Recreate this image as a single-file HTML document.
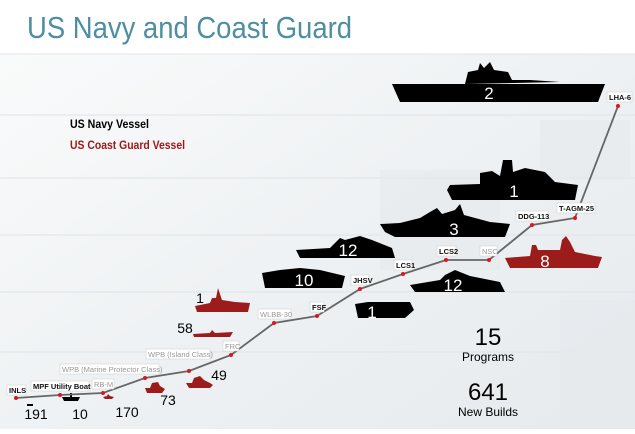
<!DOCTYPE html>
<html><head><style>
body{margin:0;width:635px;height:429px;overflow:hidden;font-family:"Liberation Sans",sans-serif;}
</style></head><body>
<svg width="635" height="429" viewBox="0 0 635 429" xmlns="http://www.w3.org/2000/svg" font-family="Liberation Sans, sans-serif">
<defs>
<linearGradient id="bg" x1="0" y1="0" x2="1" y2="1">
<stop offset="0" stop-color="#fbfcfc"/><stop offset="0.5" stop-color="#eff2f4"/><stop offset="1" stop-color="#e6eaec"/>
</linearGradient>
</defs>
<rect width="635" height="429" fill="url(#bg)"/>
<rect width="635" height="54" fill="#fff"/>
<line x1="0" y1="54" x2="635" y2="54" stroke="#e4e6e8"/>
<g stroke="#dfe3e6" stroke-width="1">
<line x1="0" y1="115" x2="635" y2="115"/><line x1="0" y1="178" x2="635" y2="178"/>
<line x1="0" y1="235" x2="635" y2="235"/><line x1="0" y1="292" x2="635" y2="292"/><line x1="0" y1="352" x2="635" y2="352"/>
</g>
<g fill="#e6eaed" opacity="0.6">
<rect x="380" y="170" width="120" height="100"/><rect x="540" y="120" width="90" height="60"/>
<rect x="560" y="300" width="75" height="129"/>
</g>
<text x="27" y="38" font-size="31" fill="#4e8ea3" textLength="325" lengthAdjust="spacingAndGlyphs">US Navy and Coast Guard</text>
<text x="70" y="128" font-size="12" font-weight="bold" fill="#000" textLength="79" lengthAdjust="spacingAndGlyphs">US Navy Vessel</text>
<text x="70" y="149" font-size="12" font-weight="bold" fill="#a01818" textLength="115" lengthAdjust="spacingAndGlyphs">US Coast Guard Vessel</text>

<g fill="#000">
<polygon points="392,84 605,84 598,102 400,102"/>
<polygon points="465,84 468,72 478,70 480,63 484,68 490,62 494,70 508,72 512,80 530,80 560,82 465,84"/>
<polygon points="447,190 450,185 480,184 480,173 492,171 500,176 503,160 512,160 513,172 525,168 545,172 555,182 578,185 575,200 452,200"/>
<polygon points="380,224 400,223 420,218 430,212 437,208 442,214 455,210 460,204 464,215 490,222 510,224 505,237 395,237 385,232"/>
<polygon points="296,250 330,248 340,238 345,240 360,236 372,240 392,248 395,258 300,258"/>
<polygon points="262,273 280,270 300,268 320,270 345,276 342,288 265,288"/>
<polygon points="410,285 440,280 445,275 455,270 470,276 500,282 505,292 415,292"/>
<polygon points="355,304 368,302 410,302 414,310 405,318 358,318"/>
<polygon points="62,397 70,397 70,393 72,393 72,397 80,397 78,401 64,401"/>
<rect x="27" y="404" width="6" height="2"/>
</g>
<g fill="#9c1c1c">
<polygon points="505,258 530,256 532,245 536,245 538,250 560,250 562,240 566,236 570,242 575,252 595,256 602,257 598,268 510,268"/>
<polygon points="195,306 210,303 212,298 216,298 218,288 222,300 235,302 250,303 248,312 197,312"/>
<polygon points="193,334 210,333 212,330 215,333 233,332 230,337 194,337"/>
<polygon points="145,388 150,388 152,383 158,382 160,386 165,389 162,393 147,393"/>
<polygon points="186,383 192,383 194,378 200,376 204,380 210,383 213,385 210,388 189,388"/>
<polygon points="103,397 107,396 108,394 110,396 114,397 112,399 105,399"/>
</g>
<g fill="#fff" font-size="17" text-anchor="middle">
<text x="489" y="99">2</text><text x="514" y="197">1</text><text x="454" y="235">3</text>
<text x="348" y="256">12</text><text x="304" y="286">10</text><text x="453" y="291">12</text>
<text x="372" y="318">1</text><text x="545" y="267">8</text>
</g>
<g fill="#000" font-size="14" text-anchor="middle">
<text x="200" y="303">1</text><text x="185" y="333">58</text><text x="168" y="405">73</text>
<text x="219" y="380">49</text><text x="36" y="419">191</text><text x="80" y="419">10</text><text x="127" y="417">170</text>
</g>
<text x="488" y="345" font-size="24" text-anchor="middle">15</text>
<text x="488" y="361" font-size="12" text-anchor="middle">Programs</text>
<text x="488" y="400" font-size="24" text-anchor="middle">641</text>
<text x="488" y="416" font-size="12" text-anchor="middle">New Builds</text>

<polyline fill="none" stroke="#666" stroke-width="1.8" points="16,398 60,395 103,393 145,378 189,371 231,355 274,323 317,316 360,289 403,274 446,260 489,260 532,225 575,218 618,106"/>
<g fill="#e0141c">
<circle cx="16" cy="398" r="2"/><circle cx="60" cy="395" r="2"/><circle cx="103" cy="393" r="2"/><circle cx="145" cy="378" r="2"/><circle cx="189" cy="371" r="2"/><circle cx="231" cy="355" r="2"/><circle cx="274" cy="323" r="2"/><circle cx="317" cy="316" r="2"/><circle cx="360" cy="289" r="2"/><circle cx="403" cy="274" r="2"/><circle cx="446" cy="260" r="2"/><circle cx="489" cy="260" r="2"/><circle cx="532" cy="225" r="2"/><circle cx="575" cy="218" r="2"/><circle cx="618" cy="106" r="2"/>
</g>
<g font-size="7.5" font-weight="bold" fill="#111">
<rect x="7" y="385" width="19" height="10" fill="#fff" stroke="#ccc" stroke-width="0.5"/><text x="9" y="393">INLS</text>
<rect x="31" y="381" width="58" height="10" fill="#fff" stroke="#ccc" stroke-width="0.5"/><text x="33" y="389">MPF Utility Boat</text>
<rect x="92" y="379" width="22" height="10" fill="#fff" stroke="#ccc" stroke-width="0.5"/><text x="94" y="387" fill="#999" font-weight="normal">RB-M</text>
<rect x="60" y="364" width="99" height="10" fill="#fff" stroke="#ccc" stroke-width="0.5"/><text x="62" y="372" fill="#999" font-weight="normal">WPB (Marine Protector Class)</text>
<rect x="146" y="349" width="64" height="10" fill="#fff" stroke="#ccc" stroke-width="0.5"/><text x="148" y="357" fill="#999" font-weight="normal">WPB (Island Class)</text>
<rect x="223" y="341" width="16" height="10" fill="#fff" stroke="#ccc" stroke-width="0.5"/><text x="225" y="349" fill="#999" font-weight="normal">FRC</text>
<rect x="258" y="309" width="33" height="10" fill="#fff" stroke="#ccc" stroke-width="0.5"/><text x="260" y="317" fill="#999" font-weight="normal">WLBB-30</text>
<rect x="310" y="302" width="14" height="10" fill="#fff" stroke="#ccc" stroke-width="0.5"/><text x="312" y="310">FSF</text>
<rect x="351" y="275" width="18" height="10" fill="#fff" stroke="#ccc" stroke-width="0.5"/><text x="353" y="283">JHSV</text>
<rect x="394" y="260" width="18" height="10" fill="#fff" stroke="#ccc" stroke-width="0.5"/><text x="396" y="268">LCS1</text>
<rect x="437" y="246" width="19" height="10" fill="#fff" stroke="#ccc" stroke-width="0.5"/><text x="439" y="254">LCS2</text>
<rect x="480" y="246" width="17" height="10" fill="#fff" stroke="#ccc" stroke-width="0.5"/><text x="482" y="254" fill="#999" font-weight="normal">NSC</text>
<rect x="516" y="211" width="32" height="10" fill="#fff" stroke="#ccc" stroke-width="0.5"/><text x="518" y="219">DDG-113</text>
<rect x="557" y="203" width="38" height="10" fill="#fff" stroke="#ccc" stroke-width="0.5"/><text x="559" y="211">T-AGM-25</text>
<rect x="607" y="92" width="25" height="10" fill="#fff" stroke="#ccc" stroke-width="0.5"/><text x="609" y="100">LHA-6</text>
</g>
</svg>
</body></html>
